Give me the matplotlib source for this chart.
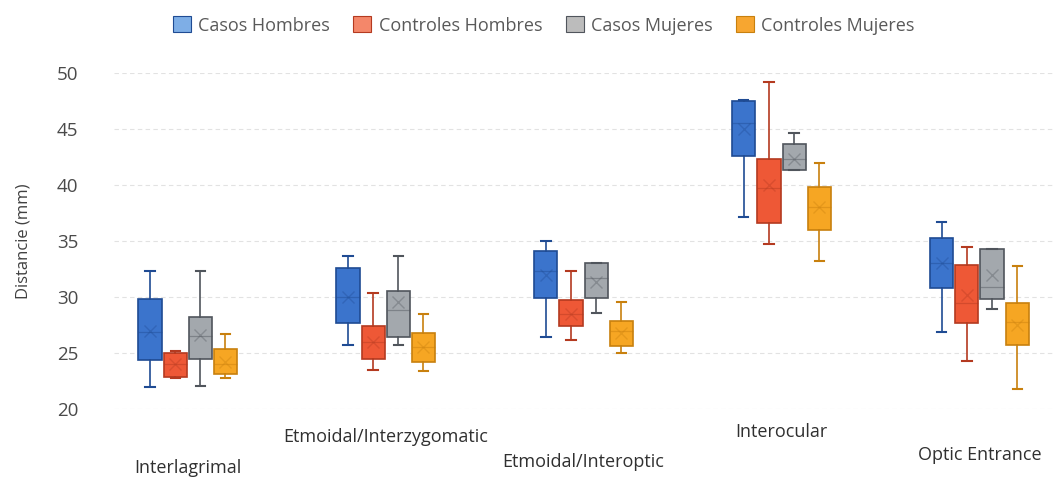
import matplotlib
matplotlib.use("Agg")
import matplotlib.pyplot as plt
from matplotlib.patches import Patch
import numpy as np

plt.rcParams['font.family'] = ['Open Sans', 'DejaVu Sans']

categories = ["Interlagrimal", "Etmoidal/Interzygomatic", "Etmoidal/Interoptic",
              "Interocular", "Optic Entrance"]
series = ["Casos Hombres", "Controles Hombres", "Casos Mujeres", "Controles Mujeres"]

# per series: lists over categories
whislo = {
    "Casos Hombres":     [22.0, 25.7, 26.4, 37.1, 26.9],
    "Controles Hombres": [22.8, 23.5, 26.2, 34.7, 24.3],
    "Casos Mujeres":     [22.1, 25.7, 28.6, 41.3, 28.9],
    "Controles Mujeres": [22.8, 23.4, 25.0, 33.2, 21.8],
}
q1 = {
    "Casos Hombres":     [24.4, 27.7, 29.9, 42.6, 30.8],
    "Controles Hombres": [22.9, 24.5, 27.4, 36.6, 27.7],
    "Casos Mujeres":     [24.5, 26.4, 29.9, 41.3, 29.8],
    "Controles Mujeres": [23.1, 24.2, 25.6, 36.0, 25.7],
}
med = {
    "Casos Hombres":     [26.9, 30.0, 32.3, 45.5, 33.0],
    "Controles Hombres": [24.0, 26.0, 28.5, 39.7, 29.5],
    "Casos Mujeres":     [26.5, 28.8, 31.7, 42.3, 30.9],
    "Controles Mujeres": [24.0, 25.5, 27.0, 38.0, 27.8],
}
mean = {
    "Casos Hombres":     [27.0, 30.0, 32.0, 45.0, 33.0],
    "Controles Hombres": [24.0, 26.0, 28.5, 40.0, 30.2],
    "Casos Mujeres":     [26.6, 29.6, 31.3, 42.3, 32.0],
    "Controles Mujeres": [24.2, 25.5, 26.8, 38.0, 27.5],
}
q3 = {
    "Casos Hombres":     [29.8, 32.6, 34.1, 47.5, 35.3],
    "Controles Hombres": [25.0, 27.4, 29.7, 42.3, 32.9],
    "Casos Mujeres":     [28.2, 30.5, 33.0, 43.7, 34.3],
    "Controles Mujeres": [25.4, 26.8, 27.9, 39.8, 29.5],
}
whishi = {
    "Casos Hombres":     [32.3, 33.7, 35.0, 47.6, 36.7],
    "Controles Hombres": [25.2, 30.4, 32.3, 49.2, 34.5],
    "Casos Mujeres":     [32.3, 33.7, 33.0, 44.6, 34.3],
    "Controles Mujeres": [26.7, 28.5, 29.6, 42.0, 32.8],
}

fills = ["#3b74cc", "#ee5836", "#a3a8ad", "#f6a623"]
edges = ["#1f4b93", "#b43a20", "#50555c", "#c8800e"]
legend_fills = ["#7eaee6", "#f4876a", "#bcbcbc", "#f7a630"]

fig = plt.figure(figsize=(10.6, 4.83), dpi=100)
ax = fig.add_axes([0.108, 0.153, 0.887, 0.696])

spacing = 0.127
width = 0.117
offsets = [-1.5, -0.5, 0.5, 1.5]
xc = np.arange(len(categories))

for si, s in enumerate(series):
    stats = []
    for ci in range(len(categories)):
        stats.append(dict(whislo=whislo[s][ci], q1=q1[s][ci], med=med[s][ci],
                          mean=mean[s][ci], q3=q3[s][ci], whishi=whishi[s][ci],
                          fliers=[]))
    pos = xc + offsets[si] * spacing
    ax.bxp(stats, positions=pos, widths=width, patch_artist=True, showmeans=True,
           manage_ticks=False,
           boxprops=dict(facecolor=fills[si], edgecolor=edges[si], linewidth=1.2),
           whiskerprops=dict(color=edges[si], linewidth=1.2),
           capprops=dict(color=edges[si], linewidth=1.5),
           capwidths=width * 0.4,
           medianprops=dict(color=edges[si], linewidth=0.9, alpha=0.45),
           meanprops=dict(marker='x', markeredgecolor=edges[si], markersize=9,
                          markeredgewidth=1.0, alpha=0.35),
           zorder=3)

ax.set_ylim(20, 50)
ax.set_xlim(-0.37, 4.38)
ax.set_yticks(np.arange(20, 51, 5))
ax.yaxis.grid(True, color="#e2e2e2", linestyle=(0, (4, 3)), linewidth=0.8)
ax.set_axisbelow(True)
for sp in ax.spines.values():
    sp.set_visible(False)
ax.tick_params(axis='y', length=0, pad=26, labelsize=13.5, labelcolor="#4a4a4a")
ax.set_xticks([])
ax.set_ylabel("Distancie (mm)", fontsize=12, color="#404040", labelpad=18)

label_y = [-0.176, -0.083, -0.158, -0.068, -0.137]
for ci, c in enumerate(categories):
    ax.text(xc[ci], label_y[ci], c, transform=ax.get_xaxis_transform(),
            ha='center', va='center', fontsize=13, color="#303030")

handles = [Patch(facecolor=legend_fills[i], edgecolor=edges[i], linewidth=0.8, label=s)
           for i, s in enumerate(series)]
fig.legend(handles=handles, loc='upper center', bbox_to_anchor=(0.513, 1.0), ncol=4,
           frameon=False, fontsize=13, handlelength=1.0, handleheight=1.0,
           handletextpad=0.4, columnspacing=1.3, labelcolor="#595959")

fig.savefig("out.png", dpi=100, facecolor="white")
